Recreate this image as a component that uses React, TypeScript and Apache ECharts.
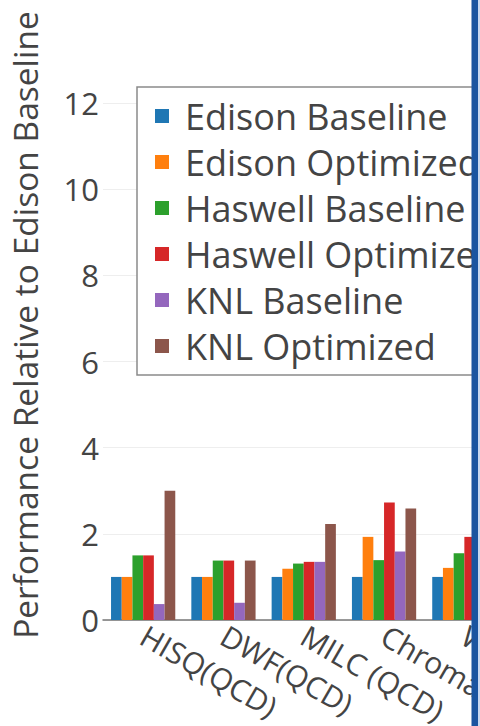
import React, { useEffect, useRef } from "react";
import * as echarts from "echarts";

const categories = ["HISQ(QCD)", "DWF(QCD)", "MILC (QCD)", "Chroma (QCD)", "WARP"];
const seriesNames = [
  "Edison Baseline",
  "Edison Optimized",
  "Haswell Baseline",
  "Haswell Optimized",
  "KNL Baseline",
  "KNL Optimized",
];
const edisonBaseline = [1, 1, 1, 1, 1];
const edisonOptimized = [1, 1, 1.19, 1.93, 1.21];
const haswellBaseline = [1.5, 1.38, 1.31, 1.39, 1.55];
const haswellOptimized = [1.5, 1.38, 1.35, 2.73, 1.93];
const knlBaseline = [0.37, 0.4, 1.35, 1.59, null];
const knlOptimized = [3.0, 1.38, 2.23, 2.59, null];
const colors = ["#1f77b4", "#ff7f0e", "#2ca02c", "#d62728", "#9467bd", "#8c564b"];
const yTitle = "Performance Relative to Edison Baseline";

export default function App() {
  const ref = useRef<HTMLDivElement>(null);
  useEffect(() => {
    document.body.style.margin = "0";
    if (!ref.current) return;
    const chart = echarts.init(ref.current, null, { renderer: "svg" });
    const values = [edisonBaseline, edisonOptimized, haswellBaseline, haswellOptimized, knlBaseline, knlOptimized];
    const font = "'Open Sans', 'Noto Sans', sans-serif";
    chart.setOption({
      animation: false,
      color: colors,
      grid: { left: 103, top: 17, width: 401.5, bottom: 106, outerBoundsMode: "none", containLabel: false },
      legend: {
        orient: "vertical",
        left: 137,
        top: 87,
        padding: [11, 40, 11, 18],
        backgroundColor: "#fff",
        borderColor: "#8a8a8a",
        borderWidth: 1.5,
        icon: "rect",
        itemWidth: 14,
        itemHeight: 14,
        itemGap: 10,
        textStyle: {
          fontFamily: font,
          fontSize: 36,
          color: "#444",
          lineHeight: 36,
          padding: [0, 0, 0, 11],
        },
        data: seriesNames,
      },
      xAxis: {
        type: "category",
        data: categories,
        axisLine: { lineStyle: { color: "#777", width: 1.5 } },
        axisTick: { show: false },
        axisLabel: {
          rotate: -30,
          fontFamily: font,
          fontSize: 30,
          color: "#444",
          margin: 13,
          interval: 0,
          hideOverlap: false,
        },
      },
      yAxis: {
        type: "value",
        min: 0,
        max: 14,
        interval: 2,
        axisLine: { show: false },
        axisTick: { show: false },
        splitLine: { showMaxLine: false, lineStyle: { color: "#eeeeee", width: 1 } },
        axisLabel: {
          showMaxLabel: false,
          fontFamily: font,
          fontSize: 31,
          color: "#444",
          margin: 4,
        },
      },
      series: seriesNames.map((name, i) => ({
        name,
        type: "bar",
        data: values[i],
        barGap: "0%",
        barCategoryGap: "20%",
      })),
      graphic: [
        {
          type: "text",
          x: 25,
          y: 325,
          rotation: Math.PI / 2,
          style: {
            text: yTitle,
            fontFamily: font,
            fontSize: 33.5,
            fill: "#444",
            textAlign: "center",
            textVerticalAlign: "middle",
          },
        },
        {
          type: "rect",
          z: 100,
          shape: { x: 471.5, y: 0, width: 6.5, height: 726 },
          style: { fill: "#1a55a0" },
        },
        {
          type: "rect",
          z: 100,
          shape: { x: 478, y: 0, width: 60, height: 726 },
          style: { fill: "#c8d8f0" },
        },
      ],
    });
    return () => chart.dispose();
  }, []);
  return (
    <div style={{ width: 480, height: 726, overflow: "hidden", position: "relative", background: "#fff" }}>
      <div ref={ref} style={{ width: 530, height: 726 }} />
    </div>
  );
}
